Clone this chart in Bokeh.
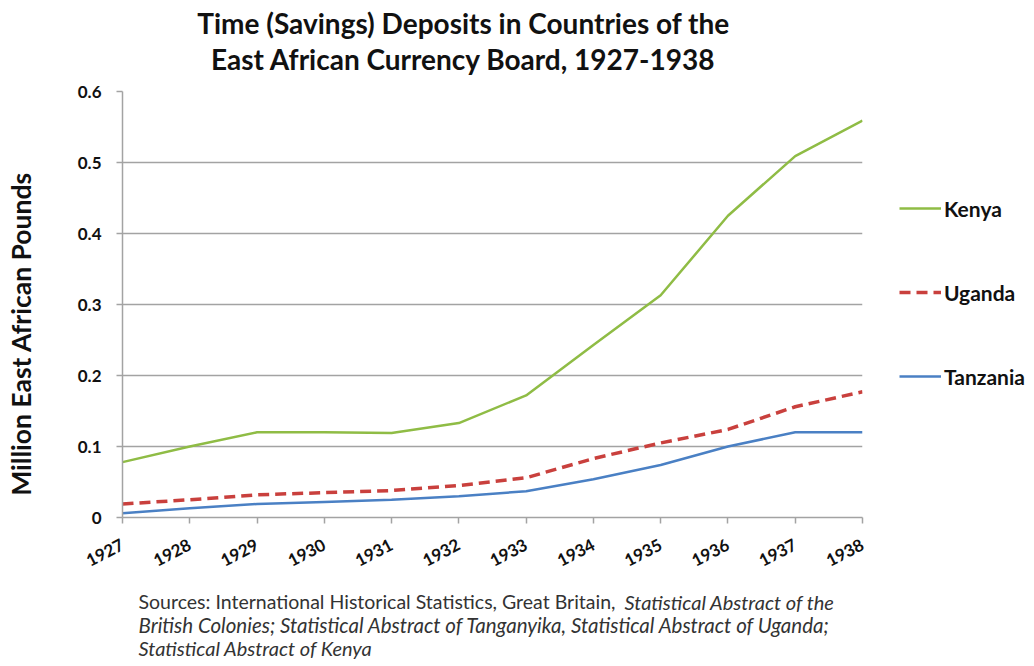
import math
from bokeh.plotting import figure
from bokeh.layouts import column, row
from bokeh.models import Range1d, FixedTicker, Label, Legend, LegendItem
from bokeh.embed import file_html
from bokeh.resources import INLINE

# ---------------- data ----------------
years = [1927, 1928, 1929, 1930, 1931, 1932, 1933, 1934, 1935, 1936, 1937, 1938]
kenya = [0.078, 0.100, 0.120, 0.120, 0.119, 0.133, 0.172, 0.243, 0.313, 0.425, 0.509, 0.559]
uganda = [0.019, 0.025, 0.032, 0.035, 0.038, 0.045, 0.056, 0.083, 0.105, 0.124, 0.156, 0.177]
tanzania = [0.006, 0.013, 0.019, 0.022, 0.025, 0.030, 0.037, 0.054, 0.074, 0.100, 0.120, 0.120]
series_names = ["Kenya", "Uganda", "Tanzania"]
y_ticks = [0, 0.1, 0.2, 0.3, 0.4, 0.5, 0.6]
y_tick_labels = ["0", "0.1", "0.2", "0.3", "0.4", "0.5", "0.6"]
title_lines = ["Time (Savings) Deposits in Countries of the",
               "East African Currency Board, 1927-1938"]
y_label = "Million East African Pounds"
source_line1_regular = "Sources:  International Historical Statistics, Great Britain,"
source_line1_italic = "Statistical Abstract of the"
source_line2 = "British Colonies; Statistical Abstract of Tanganyika, Statistical Abstract of Uganda;"
source_line3 = "Statistical Abstract of Kenya"

# ---------------- layout constants (page pixels) ----------------
W_TOTAL = 1030
TOP_H = 80            # title band: page y 0..80
MID_H = 510           # chart band: page y 80..590
BOT_H = 72            # source band: page y 590..662
YLAB_W = 50           # y-label strip: page x 0..50
LEG_X = 880           # legend strip: page x 880..1030
FL, FR, FT, FB = 122, 862, 91, 517   # chart frame edges (page)
FONT = "Lato"
INK = "#111111"
GRID = "#a3a3a3"
STYLES = [dict(line_color="#8fbc45", line_width=2.5),
          dict(line_color="#c9403d", line_width=3.5, line_dash="11 6"),
          dict(line_color="#4a80c4", line_width=2.5)]


def blank(w, h):
    f = figure(width=w, height=h, x_range=Range1d(0, w), y_range=Range1d(0, h),
               x_axis_type=None, y_axis_type=None, toolbar_location=None,
               output_backend="svg", min_border=0)
    f.outline_line_color = None
    f.background_fill_color = "white"
    f.border_fill_color = "white"
    return f


def put(f, h, px, py, text, size, style="bold", align="left", angle=0.0, color=INK):
    # px, py: position inside figure f, measured from its top-left corner
    f.add_layout(Label(x=px, y=h - py, text=text, text_align=align, text_baseline="middle",
                       angle=angle, text_font=FONT, text_font_style=style,
                       text_font_size=size, text_color=color))


# ---------------- title band ----------------
title_fig = blank(W_TOTAL, TOP_H)
for t, py in zip(title_lines, [22, 58]):
    put(title_fig, TOP_H, 463, py, t, "28px", align="center")

# ---------------- y label strip ----------------
ylab_fig = blank(YLAB_W, MID_H)
put(ylab_fig, MID_H, 20, 484, y_label, "26.5px", align="left", angle=math.pi / 2)

# ---------------- chart ----------------
chart_w = LEG_X - YLAB_W
x0, x1 = years[0], years[-1]
y0, y1 = y_ticks[0], y_ticks[-1]
p = figure(width=chart_w, height=MID_H, x_range=Range1d(x0, x1), y_range=Range1d(y0, y1),
           toolbar_location=None, output_backend="svg",
           min_border_left=FL - YLAB_W, min_border_right=LEG_X - FR,
           min_border_top=FT - TOP_H, min_border_bottom=TOP_H + MID_H - FB)
p.outline_line_color = None
p.background_fill_color = "white"
p.border_fill_color = "white"
p.xgrid.grid_line_color = None
p.ygrid.grid_line_color = GRID
p.ygrid.grid_line_width = 1.5

p.xaxis.ticker = FixedTicker(ticks=years)
p.yaxis.ticker = FixedTicker(ticks=y_ticks)
p.yaxis.major_label_overrides = {t: l for t, l in zip(y_ticks, y_tick_labels)}
for ax in (p.xaxis, p.yaxis):
    ax.axis_line_color = GRID
    ax.axis_line_width = 1.5
    ax.major_tick_line_color = GRID
    ax.major_tick_line_width = 1.5
    ax.major_tick_in = 0
    ax.major_tick_out = 6
    ax.minor_tick_line_color = None
    ax.major_label_text_font = FONT
    ax.major_label_text_font_style = "bold"
    ax.major_label_text_color = INK
p.yaxis.major_label_text_font_size = "17px"
p.yaxis.major_label_standoff = 15
p.xaxis.major_label_text_font_size = "17px"
p.xaxis.major_label_orientation = 0.48
p.xaxis.major_label_standoff = 20

series = [kenya, uganda, tanzania]
for vals, st in zip(series, STYLES):
    p.line(years, vals, **st)

# ---------------- legend strip ----------------
leg_w = W_TOTAL - LEG_X
leg_fig = blank(leg_w, MID_H)
# same series drawn in the legend strip's own (pixel) ranges: they fall outside it,
# so only their legend glyphs are visible
proxies = [leg_fig.line(years, vals, **st) for vals, st in zip(series, STYLES)]
ITEM_H = 26
legend = Legend(items=[LegendItem(label=n, renderers=[d]) for n, d in zip(series_names, proxies)],
                location=(899 - LEG_X, 128),
                spacing=84 - ITEM_H, glyph_width=42, glyph_height=ITEM_H,
                label_height=ITEM_H, label_standoff=3, padding=0, margin=0,
                border_line_color=None, background_fill_alpha=0,
                label_text_font=FONT, label_text_font_style="bold",
                label_text_font_size="21px", label_text_color=INK)
leg_fig.add_layout(legend)

# ---------------- source band ----------------
src_fig = blank(W_TOTAL, BOT_H)
SRC = "#333333"
base = TOP_H + MID_H
put(src_fig, BOT_H, 138, 601 - base, source_line1_regular, "19.5px", style="normal", color=SRC)
put(src_fig, BOT_H, 624, 601 - base, source_line1_italic, "20px", style="italic", color=SRC)
put(src_fig, BOT_H, 138, 624 - base, source_line2, "20.5px", style="italic", color=SRC)
put(src_fig, BOT_H, 138, 647 - base, source_line3, "20px", style="italic", color=SRC)

layout = column(title_fig, row(ylab_fig, p, leg_fig), src_fig)
open("out.html", "w").write(file_html(layout, INLINE))
